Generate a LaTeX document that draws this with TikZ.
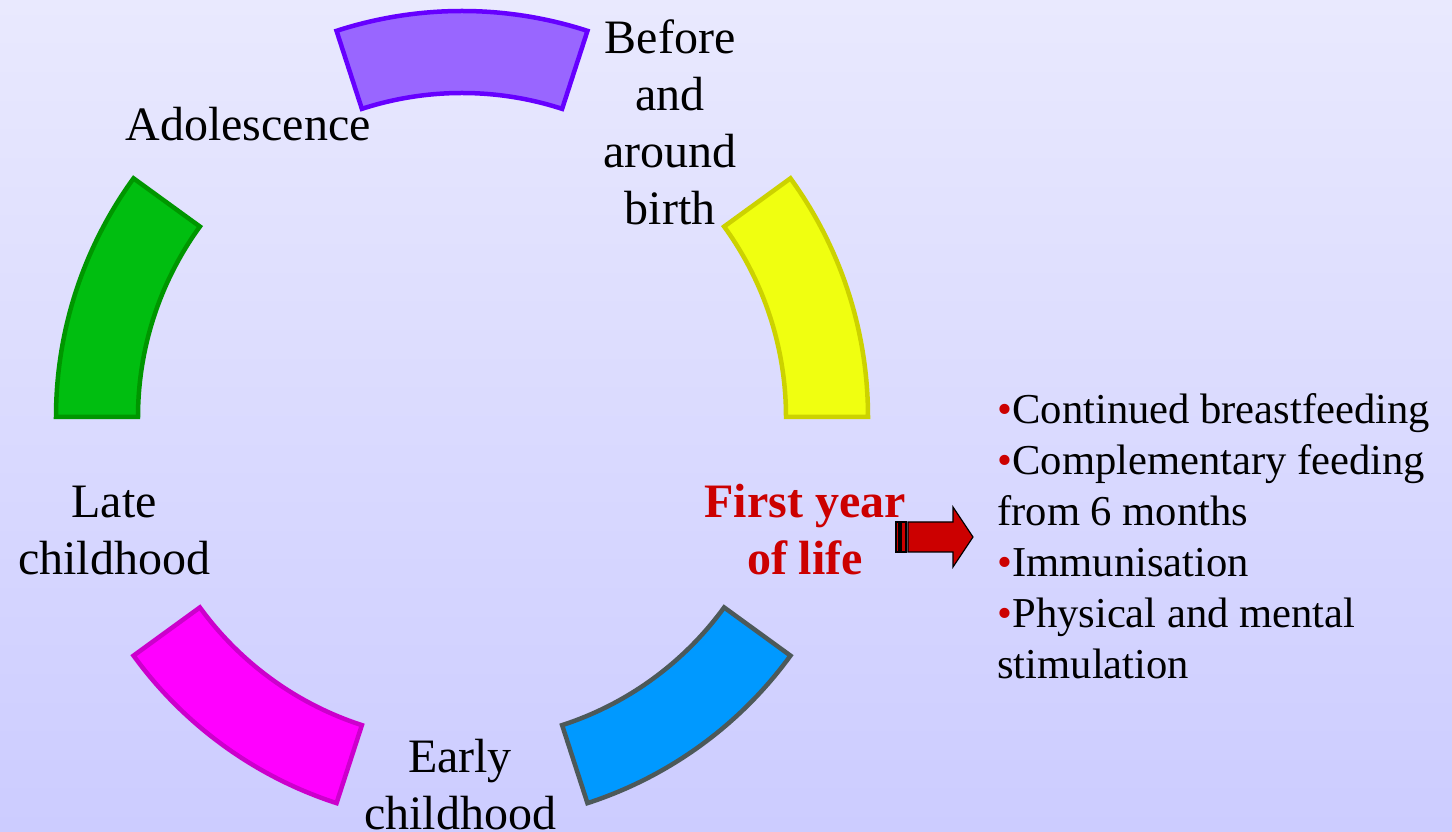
\documentclass[tikz,border=0pt]{standalone}
\usepackage{fontspec}
\usetikzlibrary{calc}
\setmainfont{Liberation Serif}
\definecolor{bgtop}{RGB}{233,233,254}
\definecolor{bgbot}{RGB}{204,204,255}
\definecolor{purfill}{RGB}{153,102,255}
\definecolor{purline}{RGB}{102,0,255}
\definecolor{yelfill}{RGB}{240,255,16}
\definecolor{yelline}{RGB}{204,210,0}
\definecolor{grnfill}{RGB}{0,190,16}
\definecolor{grnline}{RGB}{0,150,0}
\definecolor{magfill}{RGB}{255,0,255}
\definecolor{magline}{RGB}{204,0,204}
\definecolor{blufill}{RGB}{0,153,255}
\definecolor{bluline}{RGB}{77,89,89}
\definecolor{redtxt}{RGB}{204,0,0}
\newcommand{\redbul}{\textcolor{redtxt}{•}}
\begin{document}
\begin{tikzpicture}[x=0.5pt,y=0.5pt,
  seg/.style={line width=2.25pt, line join=miter},
  lbl/.style={inner sep=0pt, align=center, font=\fontsize{24}{28.5}\selectfont, anchor=north},
  lst/.style={inner sep=0pt, align=left, font=\fontsize{21.3}{25.5}\selectfont, anchor=north west},
  arr/.style={fill=redtxt, draw=black, line width=0.6pt}]
\useasboundingbox (0,0) rectangle (1452,831);
\shade[top color=bgtop, bottom color=bgbot] (0,0) rectangle (1452,831);
\coordinate (c) at (462,414);
% ring segments
\draw[seg, fill=yelfill, draw=yelline] ($(c)+(0:406)$) arc[start angle=0, end angle=36, radius=406] -- ($(c)+(36:324)$) arc[start angle=36, end angle=0, radius=324] -- cycle;
\draw[seg, fill=purfill, draw=purline] ($(c)+(72:406)$) arc[start angle=72, end angle=108, radius=406] -- ($(c)+(108:324)$) arc[start angle=108, end angle=72, radius=324] -- cycle;
\draw[seg, fill=grnfill, draw=grnline] ($(c)+(144:406)$) arc[start angle=144, end angle=180, radius=406] -- ($(c)+(180:324)$) arc[start angle=180, end angle=144, radius=324] -- cycle;
\draw[seg, fill=magfill, draw=magline] ($(c)+(216:406)$) arc[start angle=216, end angle=252, radius=406] -- ($(c)+(252:324)$) arc[start angle=252, end angle=216, radius=324] -- cycle;
\draw[seg, fill=blufill, draw=bluline] ($(c)+(288:406)$) arc[start angle=288, end angle=324, radius=406] -- ($(c)+(324:324)$) arc[start angle=324, end angle=288, radius=324] -- cycle;
% labels
\node[lbl] (before) at (670,812) {Before\\and\\around\\birth};
\node[lbl] (adol) at (248,724) {Adolescence};
\node[lbl] (late) at (114,345) {Late\\childhood};
\node[lbl] (early) at (460,92) {Early\\childhood};
\node[lbl, text=redtxt, font=\fontsize{24}{28.5}\selectfont\bfseries] (first) at (805,347) {First year\\of life};
\node[lst] (list) at (997,438) {\redbul Continued breastfeeding\\\redbul Complementary feeding\\from 6 months\\\redbul Immunisation\\\redbul Physical and mental\\stimulation};
% striped arrow
\draw[arr] (896,279) rectangle (899,309);
\draw[arr] (901,279) rectangle (906,309);
\draw[arr] (908,279) -- (953,279) -- (953,264) -- (973,294) -- (953,324) -- (953,309) -- (908,309) -- cycle;
\end{tikzpicture}
\end{document}
